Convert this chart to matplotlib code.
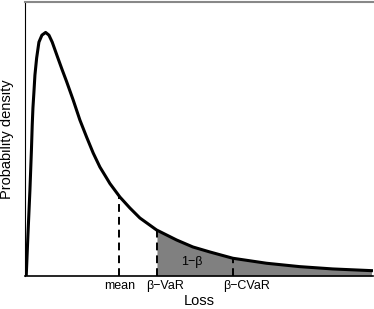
import numpy as np
import matplotlib
matplotlib.use("Agg")
import matplotlib.pyplot as plt
from matplotlib import transforms

plt.rcParams['font.family'] = ['Liberation Sans', 'DejaVu Sans']

# density curve (arbitrary loss units)
loss = [0.04, 0.125, 0.225, 0.30, 0.34, 0.375, 0.425, 0.475, 0.56, 0.675,
        0.825, 1.01, 1.175, 1.34, 1.59, 1.825, 2.06, 2.39, 2.725, 3.06, 3.39,
        3.725, 4.06, 4.225, 4.725, 5.225, 5.725, 6.56, 7.56, 8.375, 9.225,
        10.375, 12.06, 13.725, 15.375, 17.31]
density = [0.0, 0.041, 0.086, 0.126, 0.151, 0.168, 0.184, 0.201, 0.218, 0.234,
           0.241, 0.2437, 0.241, 0.234, 0.220, 0.207, 0.1945, 0.176, 0.156,
           0.139, 0.123, 0.109, 0.098, 0.0925, 0.079, 0.068, 0.058, 0.046,
           0.036, 0.029, 0.024, 0.0177, 0.0127, 0.0093, 0.007, 0.0053]

mean_x = 4.7
var_x = 6.58
cvar_x = 10.38
marker_x = [mean_x, var_x, cvar_x]
marker_labels = ['mean', 'β−VaR', 'β−CVaR']
label_shift = [0, 6, 10]   # label offset from the line, in points

loss = np.array(loss)
density = np.array(density)

fig = plt.figure(figsize=(3.74, 3.09), dpi=100)
ax = fig.add_axes([0.068, 0.107, 0.93, 0.886])

# tail beyond VaR
tail = loss >= var_x
xs = np.concatenate([[var_x], loss[tail]])
ys = np.concatenate([[np.interp(var_x, loss, density)], density[tail]])
ax.fill_between(xs, 0, ys, color='#808080', lw=0)

ax.plot(loss, density, color='black', lw=2.2, solid_joinstyle='round')

for x in marker_x:
    ax.plot([x, x], [0, np.interp(x, loss, density)], color='black',
            lw=1.4, dashes=(4, 2.6))

tr = ax.get_xaxis_transform()
for x, lab, dx in zip(marker_x, marker_labels, label_shift):
    off = transforms.offset_copy(tr, fig=fig, x=dx, y=0, units='points')
    ax.text(x, -0.014, lab, transform=off, ha='center', va='top', fontsize=9)

ax.text(8.33, 0.014, '1−β', ha='center', va='center', fontsize=9)

ax.set_xlim(0, 17.4)
ax.set_ylim(0, 0.274)
ax.set_xticks([])
ax.set_yticks([])
ax.spines['right'].set_visible(False)
ax.spines['top'].set_color('#888888')
ax.spines['top'].set_linewidth(1.5)
ax.spines['left'].set_linewidth(0.8)
ax.spines['bottom'].set_linewidth(1.2)

ax.set_xlabel('Loss', fontsize=10.5, labelpad=13)
ax.set_ylabel('Probability density', fontsize=10.5, labelpad=8)

fig.savefig('out.png', dpi=100)
